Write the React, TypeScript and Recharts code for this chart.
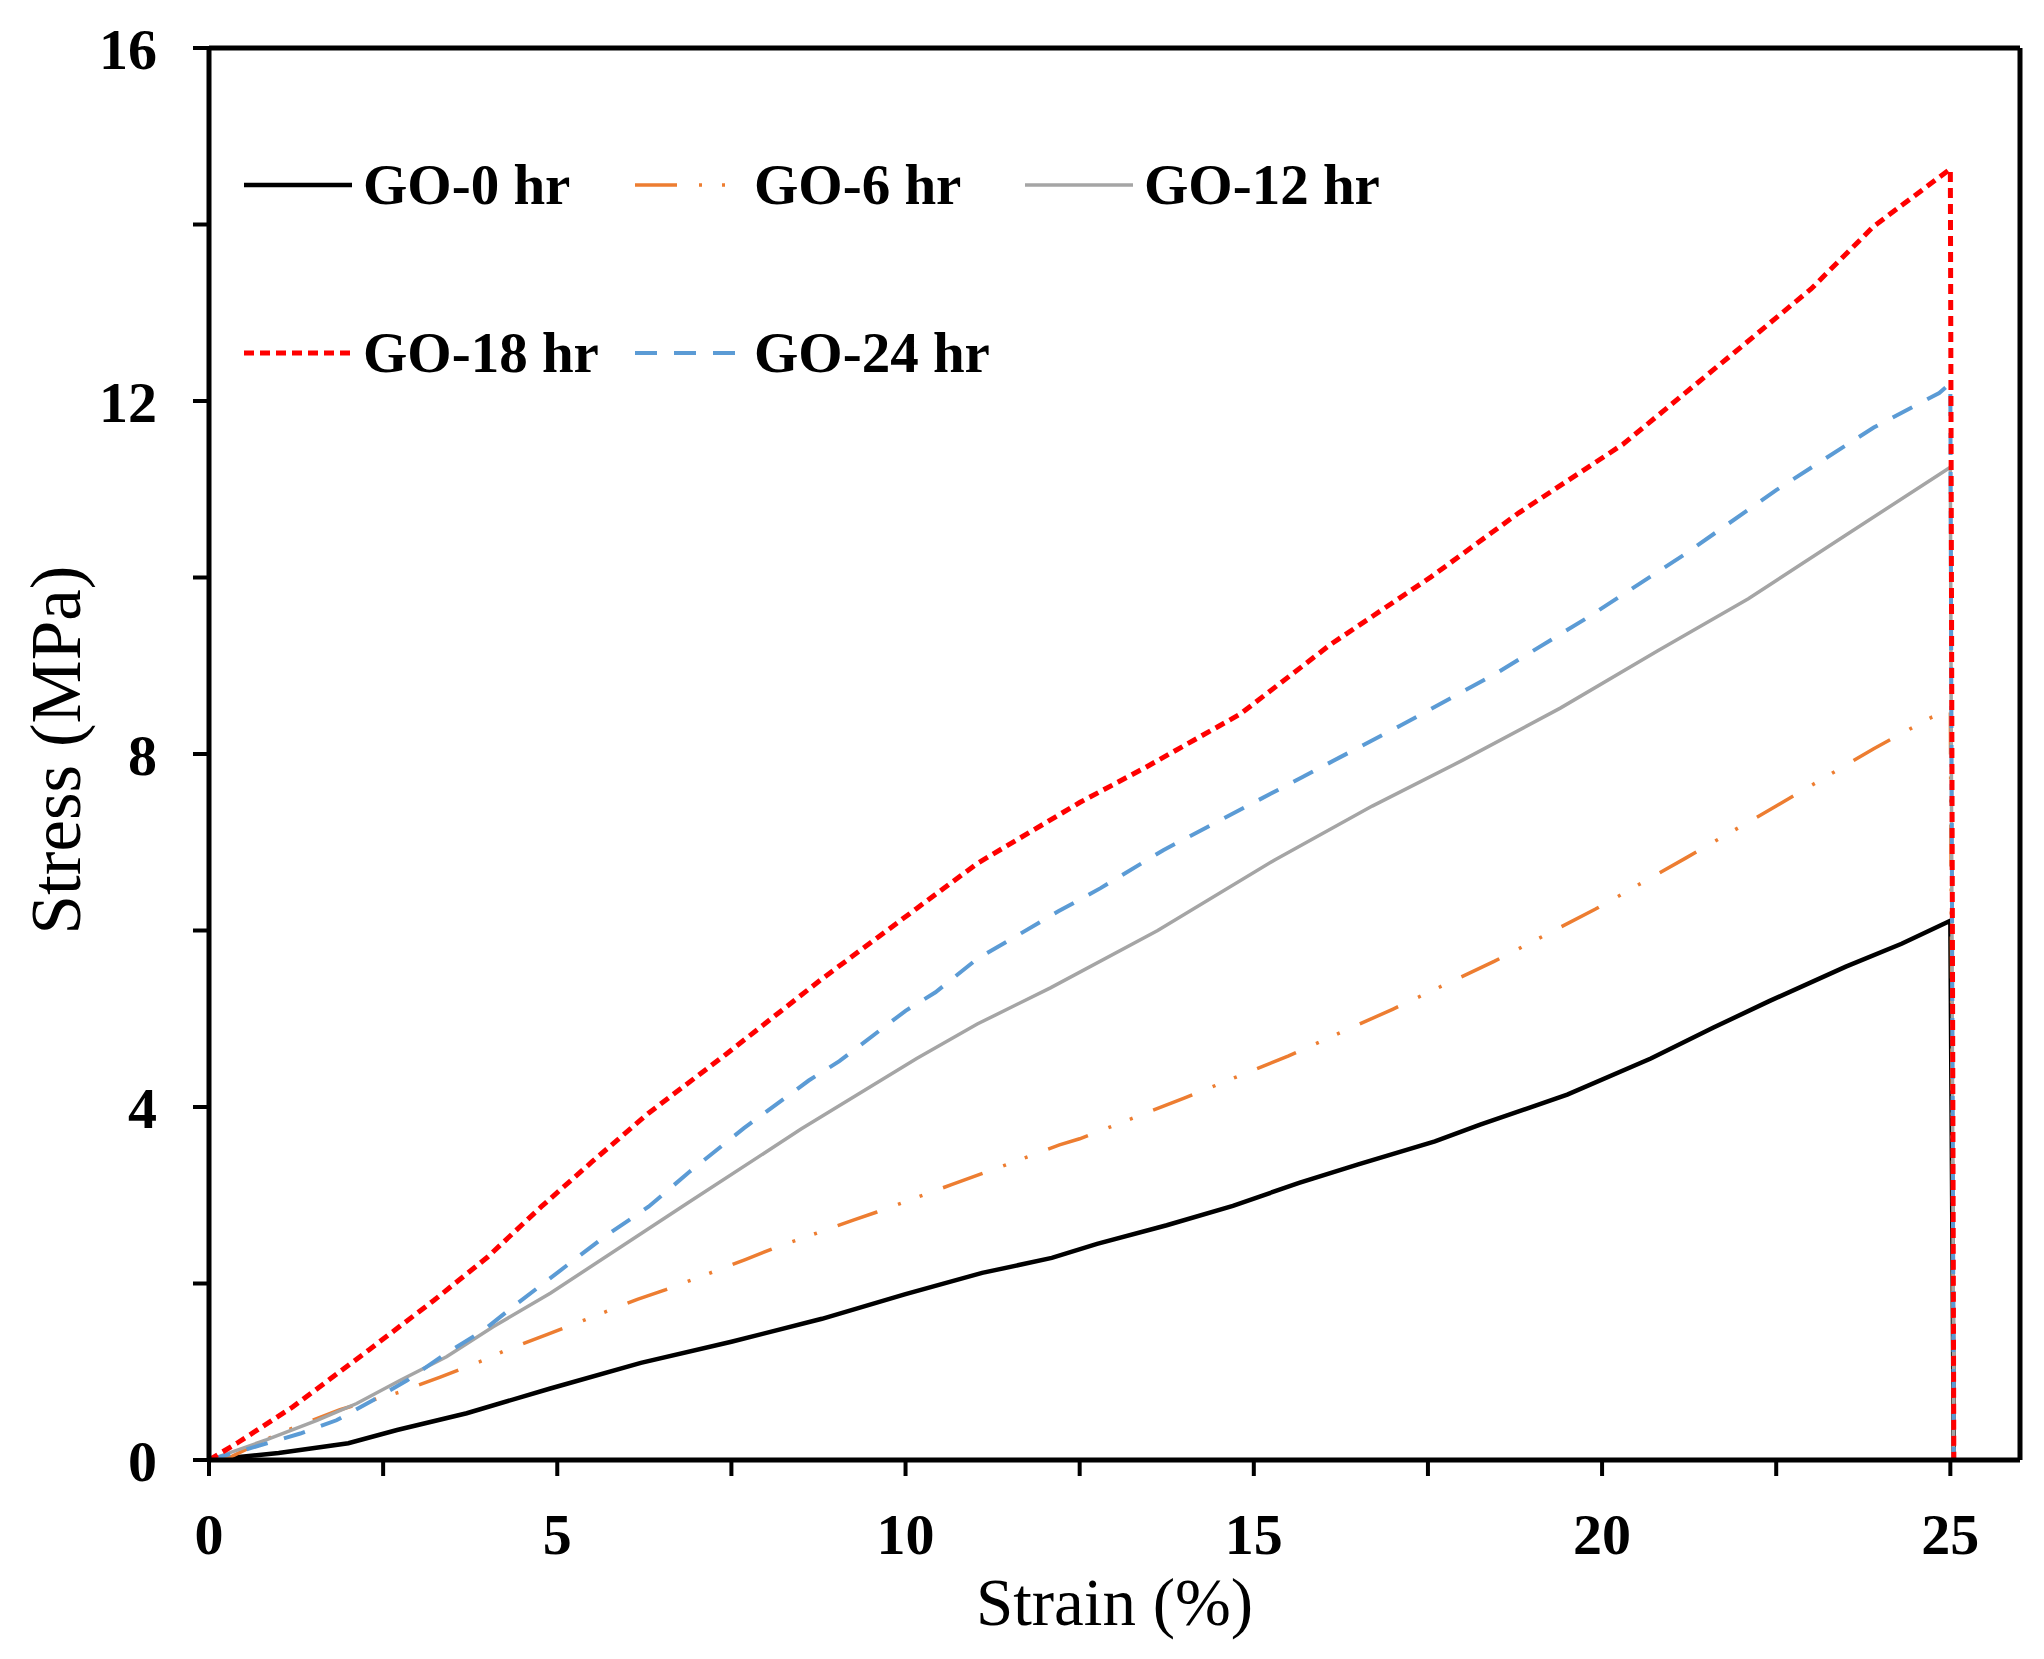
import React from 'react';
import { LineChart, Line, XAxis, YAxis, ReferenceLine } from 'recharts';

// ---- data (strain %, stress MPa) ----
const go0: [number, number][] = [
  [0, 0], [1, 0.08], [2, 0.19], [2.7, 0.34], [3.7, 0.53], [4.9, 0.81], [6.2, 1.1], [7.5, 1.34],
  [8.8, 1.6], [10, 1.88], [11.1, 2.12], [12.1, 2.29], [12.75, 2.45], [13.75, 2.66], [14.7, 2.88],
  [15.65, 3.14], [16.5, 3.35], [17.6, 3.61], [18.25, 3.8], [19.5, 4.14], [20.7, 4.55], [21.6, 4.9],
  [22.4, 5.2], [23.5, 5.59], [24.3, 5.85], [25, 6.11], [25.05, 0],
];
const go6: [number, number][] = [
  [0, 0], [0.3, 0.03], [1, 0.3], [1.88, 0.57], [2.74, 0.77], [3.32, 0.94], [3.94, 1.13], [4.28, 1.25],
  [4.85, 1.42], [6.15, 1.82], [6.56, 1.93], [7.7, 2.27], [8.11, 2.4], [9.26, 2.72], [9.59, 2.81],
  [10.66, 3.12], [11.15, 3.26], [12.21, 3.57], [12.5, 3.64], [14, 4.1], [15.5, 4.58], [17, 5.11],
  [18.45, 5.65], [19.9, 6.24], [21.2, 6.82], [22.5, 7.41], [23.9, 8.06], [24.74, 8.42], [25, 8.5], [25.05, 0],
];
const go12: [number, number][] = [
  [0, 0], [0.83, 0.23], [1.55, 0.45], [2.12, 0.64], [2.74, 0.9], [3.41, 1.17], [4.08, 1.51], [4.9, 1.89],
  [6.85, 2.9], [8.5, 3.75], [10.16, 4.55], [11.03, 4.94], [12.08, 5.35], [13.62, 6.0], [15.3, 6.8],
  [16.7, 7.41], [18, 7.93], [19.4, 8.52], [20.8, 9.17], [22.1, 9.76], [23.48, 10.47], [25, 11.25], [25.05, 0],
];
const go18: [number, number][] = [
  [0, 0], [0.4, 0.19], [1.2, 0.6], [2.3, 1.25], [3.23, 1.81], [4, 2.3], [4.77, 2.87], [5.5, 3.38],
  [6.31, 3.93], [7.41, 4.59], [8.78, 5.44], [10.16, 6.25], [11.03, 6.76], [12.5, 7.45], [13.45, 7.85],
  [14.8, 8.45], [16.1, 9.24], [17.55, 10.01], [18.8, 10.73], [20.3, 11.51], [21.9, 12.55], [23, 13.27],
  [23.9, 13.98], [25, 14.63], [25.05, 0],
];
const go24: [number, number][] = [
  [0, 0], [0.49, 0.11], [1.31, 0.3], [1.83, 0.45], [2.36, 0.68], [2.84, 0.9], [3.41, 1.21], [3.94, 1.47],
  [4.37, 1.74], [4.8, 2.0], [5.66, 2.52], [6.31, 2.87], [6.89, 3.26], [7.68, 3.76], [8.61, 4.3],
  [9.05, 4.52], [10.0, 5.09], [10.43, 5.3], [11.03, 5.68], [11.64, 5.96], [12.2, 6.22], [12.8, 6.48],
  [13.7, 6.91], [15.7, 7.74], [17.1, 8.32], [18.45, 8.9], [19.8, 9.55], [21.2, 10.27], [22.5, 10.99],
  [23.9, 11.7], [24.84, 12.09], [25, 12.2], [25.05, 0],
];

const xTicks = [0, 2.5, 5, 7.5, 10, 12.5, 15, 17.5, 20, 22.5, 25];
const yTicks = [0, 2, 4, 6, 8, 10, 12, 14, 16];
const xLabelTicks = [0, 5, 10, 15, 20, 25];
const yLabelTicks = [0, 4, 8, 12, 16];

const toRows = (pts: [number, number][]) => pts.map(([x, y]) => ({ x, y }));

type Series = { name: string; data: [number, number][]; color: string; width: number; dash?: string };
const series: Series[] = [
  { name: 'GO-0 hr', data: go0, color: '#000000', width: 4.5 },
  { name: 'GO-6 hr', data: go6, color: '#ED7D31', width: 3.5, dash: '42 22 3 20 3 22' },
  { name: 'GO-12 hr', data: go12, color: '#A5A5A5', width: 3.5 },
  { name: 'GO-18 hr', data: go18, color: '#FF0000', width: 5, dash: '10 6' },
  { name: 'GO-24 hr', data: go24, color: '#5B9BD5', width: 4, dash: '22 17' },
];
const drawOrder = [0, 1, 2, 4, 3];

const SERIF = '"Liberation Serif", "Times New Roman", serif';
const W = 2044;
const H = 1659;

const legendRows = [
  [0, 1, 2],
  [3, 4],
];
const legendColX = [244, 635, 1025];
const legendRowY = [185, 353];

export default function App() {
  return (
    <div style={{ position: 'absolute', left: 0, top: 0, width: W, height: H, background: '#fff' }}>
      <LineChart width={W} height={H} margin={{ top: 48, right: 24, bottom: 99, left: 59 }}>
        <XAxis
          type="number"
          dataKey="x"
          domain={[0, 26]}
          ticks={xTicks}
          interval={0}
          allowDataOverflow
          height={100}
          tickSize={16}
          tickMargin={37}
          axisLine={{ stroke: '#000', strokeWidth: 5 }}
          tickLine={{ stroke: '#000', strokeWidth: 4 }}
          tick={{ fontFamily: SERIF, fontSize: 58, fontWeight: 'bold', fill: '#000' }}
          tickFormatter={(v: number) => (xLabelTicks.includes(v) ? String(v) : '')}
          label={(props: any) => {
            const vb = props.viewBox || { x: 209, y: 1460, width: 1811, height: 100 };
            return (
              <text
                x={vb.x + vb.width / 2}
                y={vb.y + 165}
                textAnchor="middle"
                fontFamily={SERIF}
                fontSize={67}
                fill="#000"
              >
                Strain (%)
              </text>
            );
          }}
        />
        <YAxis
          type="number"
          dataKey="y"
          domain={[0, 16]}
          ticks={yTicks}
          interval={0}
          allowDataOverflow
          width={150}
          tickSize={16}
          tickMargin={36}
          axisLine={{ stroke: '#000', strokeWidth: 5 }}
          tickLine={{ stroke: '#000', strokeWidth: 4 }}
          tick={{ fontFamily: SERIF, fontSize: 58, fontWeight: 'bold', fill: '#000' }}
          tickFormatter={(v: number) => (yLabelTicks.includes(v) ? String(v) : '')}
          label={(props: any) => {
            const vb = props.viewBox || { x: 59, y: 48, width: 150, height: 1412 };
            const cx = vb.x - 3;
            const cy = vb.y + vb.height / 2 - 4;
            return (
              <text
                x={cx}
                y={cy}
                transform={`rotate(-90 ${cx} ${cy})`}
                textAnchor="middle"
                dominantBaseline="central"
                fontFamily={SERIF}
                fontSize={71}
                fill="#000"
              >
                Stress (MPa)
              </text>
            );
          }}
        />
        <ReferenceLine y={16} stroke="#000" strokeWidth={5} />
        <ReferenceLine x={26} stroke="#000" strokeWidth={5} />
        {drawOrder.map((i) => {
          const s = series[i];
          return (
            <Line
              key={s.name}
              data={toRows(s.data)}
              dataKey="y"
              type="linear"
              stroke={s.color}
              strokeWidth={s.width}
              strokeDasharray={s.dash}
              dot={false}
              activeDot={false}
              isAnimationActive={false}
            />
          );
        })}
      </LineChart>
      {legendRows.map((row, r) =>
        row.map((idx, c) => {
          const s = series[idx];
          return (
            <div
              key={s.name}
              style={{
                position: 'absolute',
                left: legendColX[c],
                top: legendRowY[r] - 30,
                height: 60,
                display: 'flex',
                alignItems: 'center',
              }}
            >
              <svg width={108} height={12} style={{ marginRight: 11 }}>
                <line
                  x1={0}
                  y1={6}
                  x2={108}
                  y2={6}
                  stroke={s.color}
                  strokeWidth={s.width}
                  strokeDasharray={s.dash}
                />
              </svg>
              <span
                style={{
                  fontFamily: SERIF,
                  fontSize: 57,
                  fontWeight: 'bold',
                  lineHeight: '60px',
                  color: '#000',
                  whiteSpace: 'nowrap',
                }}
              >
                {s.name}
              </span>
            </div>
          );
        })
      )}
    </div>
  );
}
